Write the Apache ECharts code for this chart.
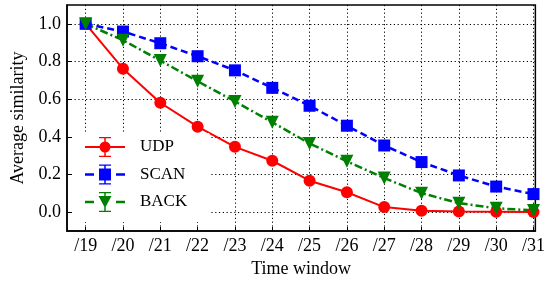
<!DOCTYPE html>
<html>
<head>
<meta charset="utf-8">
<script src="https://cdn.jsdelivr.net/npm/echarts@6/dist/echarts.min.js"></script>
<style>
html, body { margin: 0; padding: 0; background: #fff; }
#container { width: 548px; height: 284px; }
</style>
</head>
<body>
<div id="container"></div>
<script>
var windows = [19, 20, 21, 22, 23, 24, 25, 26, 27, 28, 29, 30, 31];
var yTicks = [0, 0.2, 0.4, 0.6, 0.8, 1.0];
var udp = [1.0, 0.762, 0.581, 0.454, 0.347, 0.273, 0.167, 0.106, 0.027, 0.007, 0.003, 0.002, 0.001];
var scan = [1.0, 0.959, 0.897, 0.828, 0.753, 0.660, 0.565, 0.459, 0.354, 0.266, 0.195, 0.136, 0.096];
var back = [1.0, 0.913, 0.805, 0.695, 0.588, 0.477, 0.365, 0.270, 0.181, 0.101, 0.048, 0.021, 0.009];

function pairs(vals) {
    return windows.map(function (w, i) {
        return [w, vals[i]];
    });
}

// legend icons: line + errorbar + marker, in a 40x20 box
var errbar = 'M19.25 0 h1.5 v20 h-1.5 Z M14 0 h12 v1.3 h-12 Z M14 18.7 h12 v1.3 h-12 Z ';
var iconUdp = 'path://M0 9 h40 v2 h-40 Z ' + errbar +
    'M14.5 10 A5.5 5.5 0 1 1 25.5 10 A5.5 5.5 0 1 1 14.5 10 Z';
var iconScan = 'path://M0 8.8 h9 v2.4 h-9 Z M31 8.8 h9 v2.4 h-9 Z ' + errbar +
    'M14 4 h12 v12 h-12 Z';
var iconBack = 'path://M0 8.8 h9 v2.4 h-9 Z M31 8.8 h9 v2.4 h-9 Z ' + errbar +
    'M13.5 4 L26.5 4 L20 16 Z';

var font = 'Liberation Serif';
var dom = document.getElementById('container');
var myChart = echarts.init(dom, null, { renderer: 'canvas' });

var option = {
    animation: false,
    grid: {
        left: 67, right: 11, top: 5, bottom: 53,
        show: true, borderColor: '#000', borderWidth: 1.5,
        backgroundColor: 'transparent'
    },
    legend: {
        left: 72, top: 133,
        orient: 'vertical',
        itemWidth: 40, itemHeight: 20, itemGap: 7.5,
        padding: [4, 22, 10, 13],
        backgroundColor: '#fff',
        textStyle: { fontFamily: font, fontSize: 17, color: '#000', padding: [0, 0, 0, 10] },
        data: [
            { name: 'UDP', icon: iconUdp, itemStyle: { color: '#ff0000' } },
            { name: 'SCAN', icon: iconScan, itemStyle: { color: '#0000ff' } },
            { name: 'BACK', icon: iconBack, itemStyle: { color: '#008000' } }
        ]
    },
    xAxis: {
        type: 'value',
        min: 18.5, max: 31.05,
        name: 'Time window',
        nameLocation: 'middle',
        nameGap: 29,
        nameTextStyle: { fontFamily: font, fontSize: 18, color: '#000' },
        axisLine: { show: true, onZero: false, lineStyle: { color: '#000', width: 1.5 } },
        axisTick: { show: true, inside: true, length: 4, customValues: windows, lineStyle: { color: '#000' } },
        axisLabel: {
            customValues: windows, margin: 6,
            fontFamily: font, fontSize: 18, color: '#000',
            formatter: function (v) { return '/' + v; }
        },
        splitLine: { show: true, customValues: windows, lineStyle: { color: '#000', type: [1.2, 2.6], width: 1 } }
    },
    yAxis: {
        type: 'value',
        min: -0.1, max: 1.1,
        name: 'Average similarity',
        nameLocation: 'middle',
        nameGap: 38,
        nameTextStyle: { fontFamily: font, fontSize: 18, color: '#000' },
        axisLine: { show: true, onZero: false, lineStyle: { color: '#000', width: 1.5 } },
        axisTick: { show: true, inside: true, length: 4, customValues: yTicks, lineStyle: { color: '#000' } },
        axisLabel: {
            customValues: yTicks, margin: 6,
            fontFamily: font, fontSize: 18, color: '#000',
            formatter: function (v) { return v.toFixed(1); }
        },
        splitLine: { show: true, customValues: yTicks, lineStyle: { color: '#000', type: [1.2, 2.6], width: 1 } }
    },
    series: [
        {
            name: 'UDP', type: 'line', data: pairs(udp),
            symbol: 'circle', symbolSize: 12,
            itemStyle: { color: '#ff0000' },
            lineStyle: { color: '#ff0000', width: 2 }
        },
        {
            name: 'SCAN', type: 'line', data: pairs(scan),
            symbol: 'rect', symbolSize: 12,
            itemStyle: { color: '#0000ff' },
            lineStyle: { color: '#0000ff', width: 2.5, type: [7, 4] }
        },
        {
            name: 'BACK', type: 'line', data: pairs(back),
            symbol: 'triangle', symbolRotate: 180, symbolSize: 13,
            itemStyle: { color: '#008000' },
            lineStyle: { color: '#008000', width: 2.5, type: [8, 3, 2, 3] }
        }
    ]
};
myChart.setOption(option, true);
</script>
</body>
</html>
